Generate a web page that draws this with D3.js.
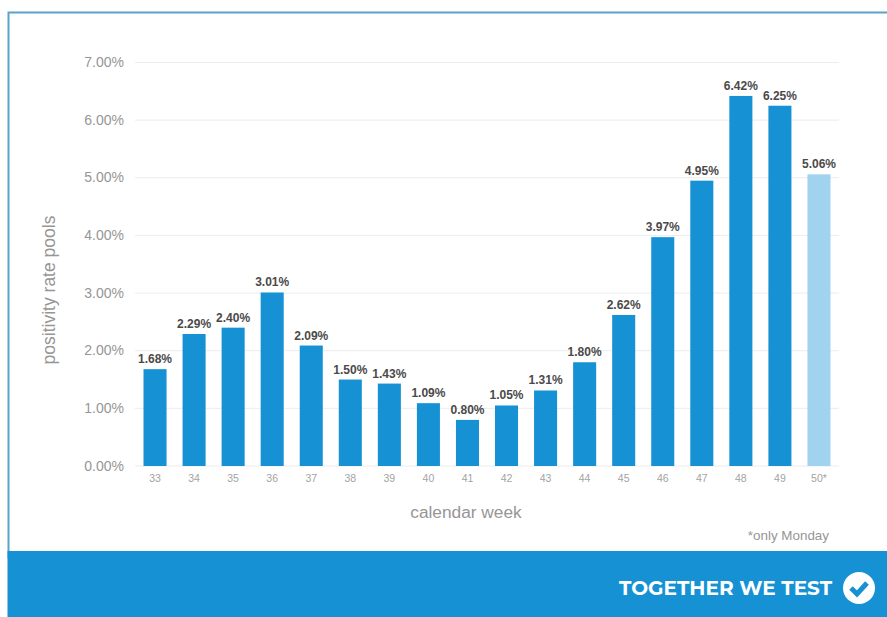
<!DOCTYPE html>
<html>
<head>
<meta charset="utf-8">
<script src="https://cdn.jsdelivr.net/npm/d3@7"></script>
<style>
  html, body { margin: 0; padding: 0; background: #fff; }
  text { font-family: "Liberation Sans", Arial, sans-serif; }
</style>
</head>
<body>
<svg id="grafico"></svg>
<script>
// data
const weeks = ["33","34","35","36","37","38","39","40","41","42","43","44","45","46","47","48","49","50*"];
const positivity = [1.68,2.29,2.40,3.01,2.09,1.50,1.43,1.09,0.80,1.05,1.31,1.80,2.62,3.97,4.95,6.42,6.25,5.06];
const yTicks = [0,1,2,3,4,5,6,7];
const partialWeeks = ["50*"];

const width = 887, height = 617;
const blue = "#1692d4", paleBlue = "#a2d3ee";

const svg = d3.select("#grafico")
  .attr("width", width)
  .attr("height", height)
  .style("display", "block");

// outer frame, its bottom is hidden behind the banner
svg.append("rect")
  .attr("x", 8.5).attr("y", 12.5)
  .attr("width", 890).attr("height", 545)
  .attr("fill", "#fff")
  .attr("stroke", "#5ba3c9")
  .attr("stroke-width", 2);

const x = d3.scaleBand().domain(weeks).range([135.5, 838.5]).paddingInner(0.41).paddingOuter(0.205);
const y = d3.scaleLinear().domain([0, 7]).range([466, 62.5]);

// grid lines
svg.append("g").selectAll("line").data(yTicks).join("line")
  .attr("x1", 135).attr("x2", 839)
  .attr("y1", d => y(d)).attr("y2", d => y(d))
  .attr("stroke", "#ececec");

// y axis labels
svg.append("g").selectAll("text").data(yTicks).join("text")
  .attr("x", 124).attr("y", d => y(d) + 4.5)
  .attr("text-anchor", "end")
  .attr("font-size", 14)
  .attr("fill", "#969696")
  .text(d => d.toFixed(2) + "%");

// x axis labels
svg.append("g").selectAll("text").data(weeks).join("text")
  .attr("x", d => x(d) + x.bandwidth() / 2).attr("y", 482)
  .attr("text-anchor", "middle")
  .attr("font-size", 10.5)
  .attr("fill", "#a3a3a3")
  .text(d => d);

// bars
const rows = d3.zip(weeks, positivity);
svg.append("g").selectAll("rect").data(rows).join("rect")
  .attr("x", d => x(d[0]))
  .attr("y", d => y(d[1]))
  .attr("width", x.bandwidth())
  .attr("height", d => y(0) - y(d[1]))
  .attr("fill", d => partialWeeks.includes(d[0]) ? paleBlue : blue);

// value labels
svg.append("g").selectAll("text").data(rows).join("text")
  .attr("x", d => x(d[0]) + x.bandwidth() / 2)
  .attr("y", d => y(d[1]) - 6)
  .attr("text-anchor", "middle")
  .attr("font-size", 12)
  .attr("font-weight", "bold")
  .attr("fill", "#4a4a4a")
  .text(d => d[1].toFixed(2) + "%");

// axis titles
svg.append("text")
  .attr("transform", "translate(55,290) rotate(-90)")
  .attr("text-anchor", "middle")
  .attr("font-size", 17.5)
  .attr("fill", "#969696")
  .text("positivity rate pools");

svg.append("text")
  .attr("x", 466).attr("y", 518)
  .attr("text-anchor", "middle")
  .attr("font-size", 17.3)
  .attr("fill", "#969696")
  .text("calendar week");

svg.append("text")
  .attr("x", 829).attr("y", 540)
  .attr("text-anchor", "end")
  .attr("font-size", 13.4)
  .attr("fill", "#969696")
  .text("*only Monday");

// bottom banner
svg.append("rect")
  .attr("x", 7.5).attr("y", 551)
  .attr("width", 880).attr("height", 66)
  .attr("fill", blue);

svg.append("text")
  .attr("x", 832).attr("y", 595)
  .attr("text-anchor", "end")
  .attr("font-size", 20)
  .attr("font-weight", "bold")
  .attr("fill", "#fff")
  .style("font-family", "Montserrat, 'Open Sans', sans-serif")
  .text("TOGETHER WE TEST");

// check badge
svg.append("circle").attr("cx", 859).attr("cy", 588).attr("r", 16).attr("fill", "#fff");
svg.append("path")
  .attr("d", d3.line()([[851, 588], [857, 594], [867, 583]]))
  .attr("fill", "none")
  .attr("stroke", blue)
  .attr("stroke-width", 5);
</script>
</body>
</html>
